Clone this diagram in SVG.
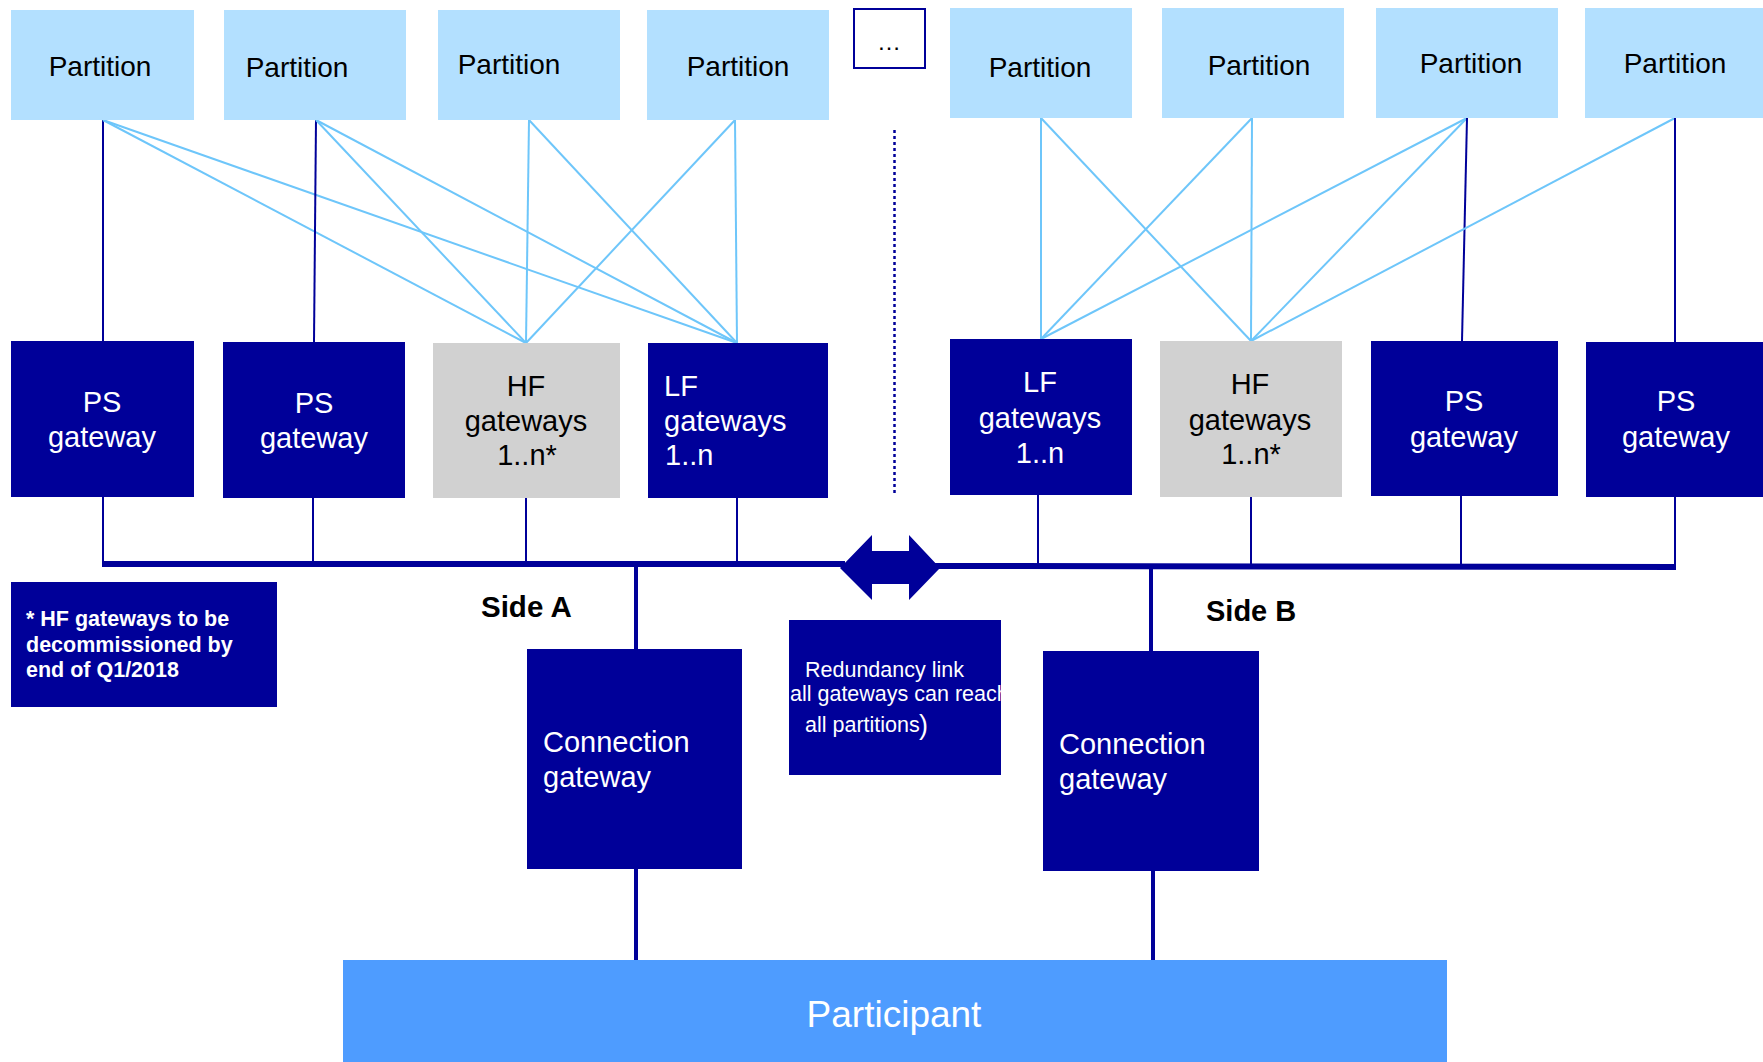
<svg xmlns="http://www.w3.org/2000/svg" width="1763" height="1062" viewBox="0 0 1763 1062">
<style>
.part{fill:#B3E0FF}
.nav{fill:#000099}
.gray{fill:#D1D1D1}
.t{font-family:"Liberation Sans",Arial,sans-serif}
.pt{font-size:28px;fill:#000;text-anchor:middle}
.gw{font-size:29px;fill:#fff;text-anchor:middle}
.gk{font-size:29px;fill:#000;text-anchor:middle}
.lb{stroke:#6EC6FA;stroke-width:2;fill:none}
.dk{stroke:#000099;stroke-width:2;fill:none}
.thick{stroke:#000099;stroke-width:4;fill:none}
.bus{stroke:#000099;stroke-width:6;fill:none}
</style>
<defs>
<clipPath id="rclip"><rect x="789" y="620" width="212" height="155"/></clipPath>
</defs>
<rect width="1763" height="1062" fill="#fff"/>

<g id="connectors">
<line class="dk" x1="103" y1="120" x2="103" y2="341"/>
<line class="lb" x1="103" y1="120" x2="526" y2="343"/>
<line class="lb" x1="103" y1="120" x2="737" y2="343"/>
<line class="dk" x1="316" y1="120" x2="314" y2="342"/>
<line class="lb" x1="316" y1="120" x2="526" y2="343"/>
<line class="lb" x1="316" y1="120" x2="737" y2="343"/>
<line class="lb" x1="529" y1="120" x2="526" y2="343"/>
<line class="lb" x1="529" y1="120" x2="737" y2="343"/>
<line class="lb" x1="735" y1="120" x2="526" y2="343"/>
<line class="lb" x1="735" y1="120" x2="737" y2="343"/>
<line class="lb" x1="1041" y1="118" x2="1041" y2="339"/>
<line class="lb" x1="1041" y1="118" x2="1251" y2="341"/>
<line class="lb" x1="1252" y1="118" x2="1041" y2="339"/>
<line class="lb" x1="1252" y1="118" x2="1251" y2="341"/>
<line class="lb" x1="1467" y1="118" x2="1041" y2="339"/>
<line class="lb" x1="1467" y1="118" x2="1251" y2="341"/>
<line class="dk" x1="1467" y1="118" x2="1462" y2="341"/>
<line class="lb" x1="1675" y1="118" x2="1251" y2="341"/>
<line class="dk" x1="1675" y1="118" x2="1675" y2="342"/>
<line class="dk" x1="103" y1="497" x2="103" y2="563"/>
<line class="dk" x1="313" y1="498" x2="313" y2="563"/>
<line class="dk" x1="526" y1="498" x2="526" y2="563"/>
<line class="dk" x1="737" y1="498" x2="737" y2="563"/>
<line class="dk" x1="1038" y1="495" x2="1038" y2="565"/>
<line class="dk" x1="1251" y1="497" x2="1251" y2="565"/>
<line class="dk" x1="1461" y1="496" x2="1461" y2="565"/>
<line class="dk" x1="1675" y1="497" x2="1675" y2="565"/>
<line class="bus" x1="102" y1="564" x2="845" y2="564"/>
<line class="bus" x1="935" y1="566" x2="1676" y2="567"/>
<polygon class="nav" points="840,568 872,535 872,551 909,551 909,535 940,568 909,600 909,584 872,584 872,600"/>
<line class="thick" x1="636" y1="564" x2="636" y2="650"/>
<line class="thick" x1="636" y1="868" x2="636" y2="961"/>
<line class="thick" x1="1151" y1="566" x2="1151" y2="652"/>
<line class="thick" x1="1153" y1="870" x2="1153" y2="961"/>
<line x1="894.5" y1="130" x2="894.5" y2="495" stroke="#000099" stroke-width="2.5" stroke-dasharray="3,3"/>
</g>

<g id="partition-1"><rect class="part" x="11" y="10" width="183" height="110"/><text class="t pt" x="100" y="76">Partition</text></g>
<g id="partition-2"><rect class="part" x="224" y="10" width="182" height="110"/><text class="t pt" x="297" y="77">Partition</text></g>
<g id="partition-3"><rect class="part" x="438" y="10" width="182" height="110"/><text class="t pt" x="509" y="74">Partition</text></g>
<g id="partition-4"><rect class="part" x="647" y="10" width="182" height="110"/><text class="t pt" x="738" y="76">Partition</text></g>
<g id="ellipsis"><rect x="854" y="9" width="71" height="59" fill="#fff" stroke="#000099" stroke-width="2"/><text class="t" x="889" y="50" font-size="24" text-anchor="middle" fill="#000">…</text></g>
<g id="partition-5"><rect class="part" x="950" y="8" width="182" height="110"/><text class="t pt" x="1040" y="77">Partition</text></g>
<g id="partition-6"><rect class="part" x="1162" y="8" width="182" height="110"/><text class="t pt" x="1259" y="75">Partition</text></g>
<g id="partition-7"><rect class="part" x="1376" y="8" width="182" height="110"/><text class="t pt" x="1471" y="73">Partition</text></g>
<g id="partition-8"><rect class="part" x="1585" y="8" width="178" height="110"/><text class="t pt" x="1675" y="73">Partition</text></g>

<g id="ps-gateway-1"><rect class="nav" x="11" y="341" width="183" height="156"/><text class="t gw" x="102" y="412">PS</text><text class="t gw" x="102" y="447">gateway</text></g>
<g id="ps-gateway-2"><rect class="nav" x="223" y="342" width="182" height="156"/><text class="t gw" x="314" y="413">PS</text><text class="t gw" x="314" y="448">gateway</text></g>
<g id="hf-gateways-a"><rect class="gray" x="433" y="343" width="187" height="155"/><text class="t gk" x="526" y="396">HF</text><text class="t gk" x="526" y="431">gateways</text><text class="t gk" x="527" y="465">1..n*</text></g>
<g id="lf-gateways-a"><rect class="nav" x="648" y="343" width="180" height="155"/><text class="t" font-size="29" fill="#fff" x="664" y="396">LF</text><text class="t" font-size="29" fill="#fff" x="664" y="431">gateways</text><text class="t" font-size="29" fill="#fff" x="665" y="465">1..n</text></g>

<g id="lf-gateways-b"><rect class="nav" x="950" y="339" width="182" height="156"/><text class="t gw" x="1040" y="392">LF</text><text class="t gw" x="1040" y="428">gateways</text><text class="t gw" x="1040" y="463">1..n</text></g>
<g id="hf-gateways-b"><rect class="gray" x="1160" y="341" width="182" height="156"/><text class="t gk" x="1250" y="394">HF</text><text class="t gk" x="1250" y="430">gateways</text><text class="t gk" x="1251" y="464">1..n*</text></g>
<g id="ps-gateway-3"><rect class="nav" x="1371" y="341" width="187" height="155"/><text class="t gw" x="1464" y="411">PS</text><text class="t gw" x="1464" y="447">gateway</text></g>
<g id="ps-gateway-4"><rect class="nav" x="1586" y="342" width="177" height="155"/><text class="t gw" x="1676" y="411">PS</text><text class="t gw" x="1676" y="447">gateway</text></g>

<g id="note"><rect class="nav" x="11" y="582" width="266" height="125"/>
<text class="t" font-size="21.5" font-weight="bold" fill="#fff"><tspan x="26" y="626">* HF gateways to be</tspan><tspan x="26" y="652">decommissioned by</tspan><tspan x="26" y="677">end of Q1/2018</tspan></text></g>

<g id="side-a"><text class="t" x="481" y="617" font-size="29.5" font-weight="bold" fill="#000">Side A</text></g>
<g id="side-b"><text class="t" x="1206" y="621" font-size="29" font-weight="bold" fill="#000">Side B</text></g>

<g id="redundancy"><rect class="nav" x="789" y="620" width="212" height="155"/>
<g clip-path="url(#rclip)"><text class="t" font-size="21.5" fill="#fff"><tspan x="805" y="677">Redundancy link</tspan><tspan x="790" y="701">all gateways can reach</tspan><tspan x="805" y="732">all partitions</tspan></text>
<text class="t" x="919" y="734" font-size="27" fill="#fff">)</text></g></g>

<g id="connection-gateway-a"><rect class="nav" x="527" y="649" width="215" height="220"/><text class="t" font-size="29" fill="#fff"><tspan x="543" y="752">Connection</tspan><tspan x="543" y="787">gateway</tspan></text></g>
<g id="connection-gateway-b"><rect class="nav" x="1043" y="651" width="216" height="220"/><text class="t" font-size="29" fill="#fff"><tspan x="1059" y="754">Connection</tspan><tspan x="1059" y="789">gateway</tspan></text></g>

<g id="participant"><rect x="343" y="960" width="1104" height="102" fill="#4E9CFF"/><text class="t" x="894" y="1027" font-size="37" fill="#fff" text-anchor="middle">Participant</text></g>
</svg>
